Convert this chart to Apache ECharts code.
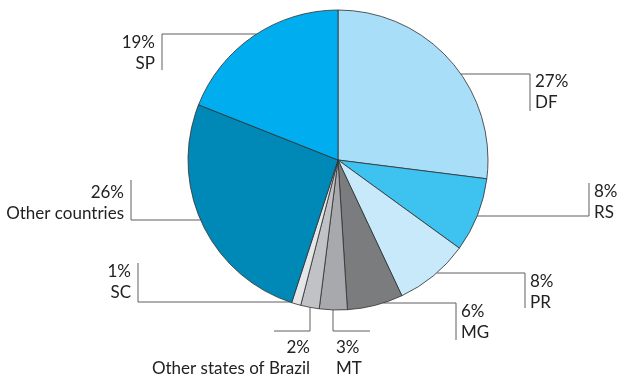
<!DOCTYPE html>
<html><head><meta charset="utf-8">
<script src="https://cdn.jsdelivr.net/npm/echarts@6/dist/echarts.min.js"></script>
<style>html,body{margin:0;padding:0;background:#fff}#c{width:625px;height:380px}</style>
</head><body><div id="c"></div>
<script>
// Data
const categories = ['DF', 'RS', 'PR', 'MG', 'MT', 'Other states of Brazil', 'SC', 'Other countries', 'SP'];
const shares = [27, 8, 8, 6, 3, 2, 1, 26, 19];
const colors = ['#a8def8', '#3ec3f1', '#c7e9f9', '#7b7c7e', '#a7a9ac', '#c0c2c5', '#e4e6e7', '#0088b6', '#00aeef'];

// Layout of the leader lines/labels (styling, not data)
const CX = 338, CY = 160, R = 150;
const labelLayoutCfg = [
  {mode: 'h', side: 1,  elbow: [530, 74],  end: [530, 111], text: [535, 71], align: 'left'},
  {mode: 'h', side: 1,  elbow: [589, 216], end: [589, 183], text: [594, 181], align: 'left'},
  {mode: 'h', side: 1,  elbow: [525, 273], end: [525, 308], text: [530, 271], align: 'left'},
  {mode: 'h', side: 1,  elbow: [456, 303], end: [456, 340], text: [461, 301], align: 'left'},
  {mode: 'v', side: 1,  elbow: [333, 331], end: [370, 331], text: [336, 337], align: 'left'},
  {mode: 'v', side: 1,  elbow: [310, 331], end: [274, 331], text: [310, 337], align: 'right'},
  {mode: 'h', side: -1, elbow: [138, 302], end: [138, 263], text: [131, 261], align: 'right'},
  {mode: 'h', side: -1, elbow: [131, 220], end: [131, 180], text: [124, 182], align: 'right'},
  {mode: 'h', side: -1, elbow: [162, 34],  end: [162, 70],  text: [155, 32], align: 'right'}
];

function edgePoint(cfg) {
  if (cfg.mode === 'h') {
    const y = cfg.elbow[1];
    const dx = Math.sqrt(Math.max(0, R * R - (y - CY) * (y - CY)));
    return [CX + cfg.side * dx, y];
  } else {
    const x = cfg.elbow[0];
    const dy = Math.sqrt(Math.max(0, R * R - (x - CX) * (x - CX)));
    return [x, CY + dy];
  }
}

const chart = echarts.init(document.getElementById('c'), null, {renderer: 'canvas'});
chart.setOption({
  backgroundColor: '#ffffff',
  animation: false,
  series: [{
    type: 'pie',
    center: [CX, CY],
    radius: R,
    startAngle: 90,
    clockwise: true,
    avoidLabelOverlap: false,
    data: categories.map((n, i) => ({name: n, value: shares[i], itemStyle: {color: colors[i]}})),
    itemStyle: {borderColor: '#2e2e2e', borderWidth: 0.8},
    emphasis: {disabled: true},
    label: {
      show: true,
      formatter: '{c}%\n{b}',
      fontFamily: 'Lato',
      fontSize: 17,
      lineHeight: 21,
      color: '#222222'
    },
    labelLine: {show: true, smooth: false, lineStyle: {color: '#5e5e5e', width: 1}},
    labelLayout: function (params) {
      const cfg = labelLayoutCfg[params.dataIndex];
      return {
        x: cfg.text[0],
        y: cfg.text[1],
        align: cfg.align,
        verticalAlign: 'top',
        labelLinePoints: [edgePoint(cfg), cfg.elbow, cfg.end]
      };
    }
  }]
});
</script></body></html>
